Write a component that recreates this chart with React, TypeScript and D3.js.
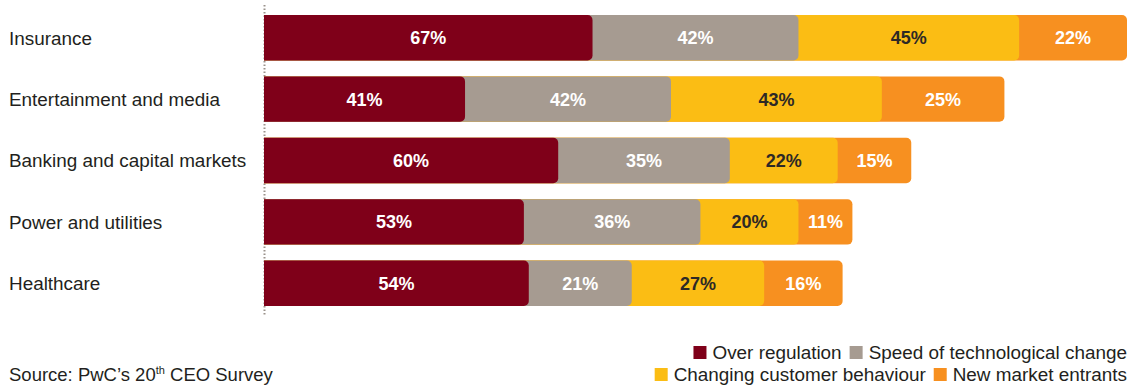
import React, { useEffect, useRef } from "react";
import * as d3 from "d3";

const categories = ["Insurance", "Entertainment and media", "Banking and capital markets", "Power and utilities", "Healthcare"];
const seriesNames = ["Over regulation", "Speed of technological change", "Changing customer behaviour", "New market entrants"];
const overRegulation = [67, 41, 60, 53, 54];
const speedOfTech = [42, 42, 35, 36, 21];
const customerBehaviour = [45, 43, 22, 20, 27];
const newEntrants = [22, 25, 15, 11, 16];
const colors = ["#7f0019", "#a69b91", "#fbbd14", "#f79020"];
const labelColors = ["#ffffff", "#ffffff", "#2d2926", "#ffffff"];

const W = 1130, H = 385;
const FONT = "'Liberation Sans', Arial, Helvetica, sans-serif";

export default function App() {
  const ref = useRef<SVGSVGElement>(null);
  useEffect(() => {
    const svg = d3.select(ref.current);
    svg.selectAll("*").remove();
    const series = [overRegulation, speedOfTech, customerBehaviour, newEntrants];
    const rows = categories.map((c, i) => ({ c, vals: series.map(s => s[i]) }));
    const x = d3.scaleLinear().domain([0, 176]).range([264, 1127]);
    const y = d3.scaleBand().domain(categories).range([7, 314]).paddingInner(0.26).paddingOuter(0.13);
    const r = 5;
    const seg = (x0: number, x1: number, y0: number, h: number) => {
      const p = d3.path();
      p.moveTo(x0, y0);
      p.lineTo(x1 - r, y0);
      p.arcTo(x1, y0, x1, y0 + r, r);
      p.lineTo(x1, y0 + h - r);
      p.arcTo(x1, y0 + h, x1 - r, y0 + h, r);
      p.lineTo(x0, y0 + h);
      p.closePath();
      return p.toString();
    };
    svg.append("line").attr("x1", 264.5).attr("x2", 264.5).attr("y1", 5).attr("y2", 316)
      .attr("stroke", "#9a928b").attr("stroke-width", 2).attr("stroke-dasharray", "1.5,2");
    rows.forEach(row => {
      const y0 = y(row.c)!;
      const h = y.bandwidth();
      const cum = d3.cumsum(row.vals);
      const g = svg.append("g");
      for (let k = row.vals.length - 1; k >= 0; k--) {
        g.append("path").attr("d", seg(x(0), x(cum[k]), y0, h)).attr("fill", colors[k]);
      }
      row.vals.forEach((v, k) => {
        const start = k === 0 ? 0 : cum[k - 1];
        g.append("text").attr("x", (x(start) + x(cum[k])) / 2).attr("y", y0 + h / 2)
          .attr("dy", "0.36em").attr("text-anchor", "middle").attr("fill", labelColors[k])
          .attr("font-family", FONT).attr("font-weight", "bold").attr("font-size", 18).text(v + "%");
      });
      svg.append("text").attr("x", 9).attr("y", y0 + h / 2).attr("dy", "0.36em")
        .attr("font-family", FONT).attr("font-size", 18.9).attr("fill", "#231f20").text(row.c);
    });
    const src = svg.append("text").attr("x", 9).attr("y", 381).attr("font-family", FONT)
      .attr("font-size", 18.5).attr("fill", "#231f20");
    src.append("tspan").text("Source: PwC\u2019s 20");
    src.append("tspan").attr("font-size", 11).attr("dy", -7).text("th");
    src.append("tspan").attr("dy", 7).text(" CEO Survey");
    const legendRows = [[0, 1], [2, 3]];
    const baselines = [359, 381];
    legendRows.forEach((items, ri) => {
      let right = 1127;
      for (let j = items.length - 1; j >= 0; j--) {
        const k = items[j];
        const t = svg.append("text").attr("y", baselines[ri]).attr("font-family", FONT)
          .attr("font-size", 18.9).attr("fill", "#231f20").attr("text-anchor", "end")
          .attr("x", right).text(seriesNames[k]);
        const tw = (t.node() as SVGTextElement).getComputedTextLength();
        const sqRight = right - tw - 6;
        svg.append("rect").attr("x", sqRight - 13).attr("y", baselines[ri] - 13).attr("width", 13).attr("height", 13)
          .attr("fill", colors[k]);
        right = sqRight - 13 - 8;
      }
    });
  }, []);
  return <svg ref={ref} width={W} height={H} style={{ display: "block", position: "absolute", left: 0, top: 0 }} />;
}
